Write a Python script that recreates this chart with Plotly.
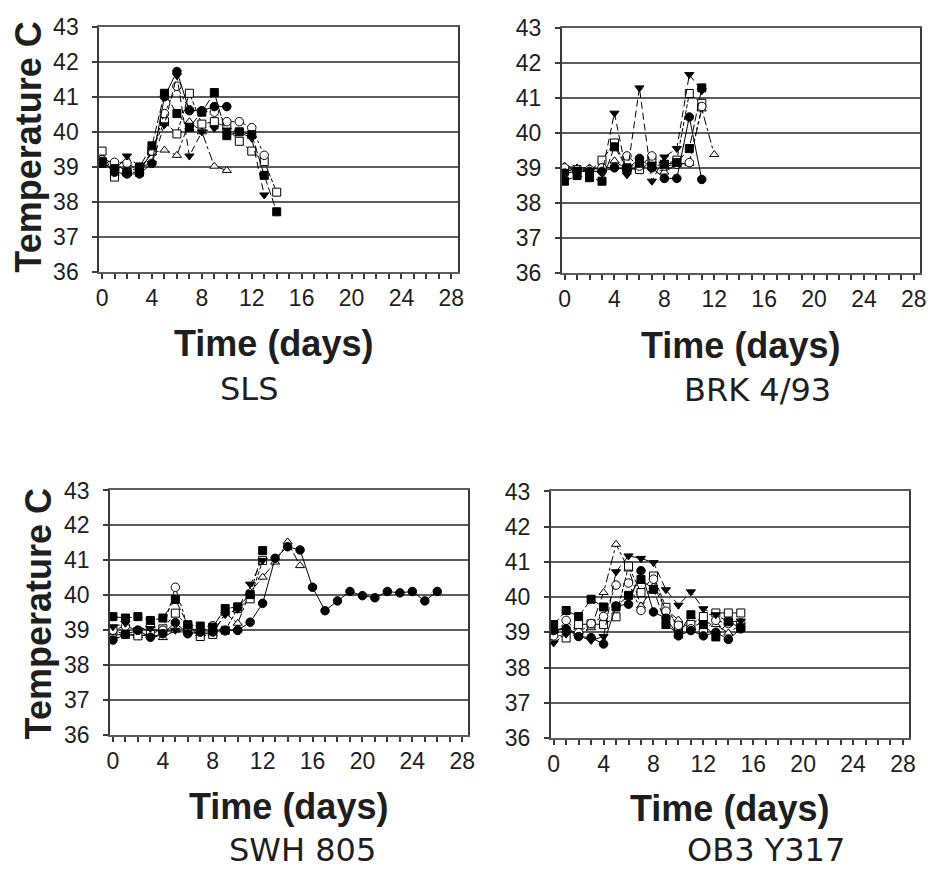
import plotly.graph_objects as go

# Rectal temperature (deg C) by day post-infection, four virus strains,
# six animals per strain (one list per animal, starting at day 0).
y_tick_vals = [36, 37, 38, 39, 40, 41, 42, 43]
x_tick_vals = [0, 4, 8, 12, 16, 20, 24, 28]
panel_titles = ["SLS", "BRK 4/93", "SWH 805", "OB3 Y317"]

# SLS
sls_a = [39.15, 38.85, 38.8, 38.8, 39.1, 41.0, 41.72, 40.6, 40.6, 40.72, 40.72]
sls_b = [39.1, 38.95, 38.85, 39.0, 39.6, 41.1, 40.52, 40.13, 40.56, 41.12, 39.89, 40.0, 39.92, 38.76, 37.72]
sls_c = [39.2, 39.13, 39.11, 38.9, 39.45, 40.52, 41.3, 40.63, 40.6, 40.56, 40.29, 40.29, 40.12, 39.33]
sls_d = [39.45, 38.71, 38.85, 38.85, 39.45, 40.29, 39.94, 41.1, 40.22, 40.29, 40.13, 39.73, 39.45, 39.15, 38.28]
sls_e = [39.2, 38.9, 39.31, 39.0, 39.1, 40.2, 41.6, 39.31, 40.0, 40.1, 40.05, 40.0, 39.82, 38.2]
sls_f = [39.27, 39.05, 38.9, 38.9, 39.4, 39.48, 39.33, 40.29, 40.0, 39.02, 38.9]

# BRK 4/93
brk_a = [38.85, 38.9, 38.9, 38.9, 39.0, 38.95, 39.27, 39.0, 38.7, 38.7, 40.45, 38.67]
brk_b = [38.62, 38.78, 38.72, 38.62, 39.6, 39.0, 39.13, 39.05, 39.1, 39.15, 39.55, 41.28]
brk_c = [39.0, 38.95, 38.95, 39.0, 39.02, 39.34, 39.05, 39.34, 39.05, 39.1, 39.15, 40.75]
brk_d = [38.95, 38.95, 38.9, 39.22, 39.71, 38.99, 38.95, 39.2, 39.1, 39.22, 41.12, 40.84]
brk_e = [38.9, 38.95, 38.9, 38.85, 40.56, 38.8, 41.28, 38.62, 39.31, 39.55, 41.66, 41.2]
brk_f = [39.05, 39.0, 39.0, 38.95, 39.2, 38.95, 39.0, 39.05, 38.88, 39.1, 39.13, 40.68, 39.38]

# SWH 805
swh_a = [38.72, 38.88, 39.0, 38.8, 38.9, 39.22, 38.9, 38.95, 38.95, 39.0, 39.0, 39.23, 39.77,
         41.06, 41.39, 41.3, 40.23, 39.56, 39.84, 40.11, 39.99, 39.93, 40.11, 40.07, 40.11, 39.84, 40.11]
swh_b = [39.39, 39.35, 39.39, 39.28, 39.35, 39.88, 39.16, 39.12, 39.09, 39.62, 39.67, 40.02, 41.28]
swh_c = [39.0, 39.12, 39.0, 39.12, 39.0, 40.23, 39.1, 38.95, 39.13, 38.98, 39.0]
swh_d = [39.0, 38.88, 38.84, 38.88, 39.04, 39.49, 39.12, 38.82, 38.88, 39.0, 39.62, 39.9, 41.0]
swh_e = [39.1, 39.2, 39.0, 39.05, 38.95, 39.0, 38.9, 38.95, 38.95, 39.45, 39.6, 40.32, 41.0]
swh_f = [38.85, 38.9, 38.85, 38.85, 38.79, 39.0, 38.95, 38.9, 38.9, 39.49, 39.2, 40.1, 40.52,
         40.95, 41.53, 40.85]

# OB3 Y317
ob3_a = [39.05, 39.1, 38.88, 38.85, 38.67, 39.75, 39.8, 40.75, 39.58, 39.4, 38.9, 39.05, 38.9, 39.0, 38.8, 39.1]
ob3_b = [39.22, 39.62, 39.45, 39.94, 39.72, 39.72, 40.05, 40.5, 40.22, 39.22, 38.95, 39.5, 39.22, 38.87, 39.3, 39.13]
ob3_c = [38.9, 39.34, 38.99, 39.25, 39.45, 40.34, 40.4, 39.62, 40.51, 39.6, 39.2, 39.1, 39.05, 39.34, 39.25, 39.27]
ob3_d = [38.97, 38.84, 39.22, 39.24, 39.22, 39.44, 40.88, 40.13, 40.6, 39.71, 39.15, 39.22, 39.45, 39.55, 39.55, 39.55]
ob3_e = [38.7, 38.95, 38.9, 38.77, 38.88, 40.72, 41.17, 41.1, 40.98, 40.21, 39.77, 40.15, 39.67, 39.5, 39.3, 39.32]
ob3_f = [39.05, 39.14, 38.92, 39.13, 40.13, 41.5, 40.8, 39.75, 40.3, 39.65, 39.35, 39.13, 39.3, 39.22, 38.98, 39.22]

panels = [
    [sls_a, sls_b, sls_c, sls_d, sls_e, sls_f],
    [brk_a, brk_b, brk_c, brk_d, brk_e, brk_f],
    [swh_a, swh_b, swh_c, swh_d, swh_e, swh_f],
    [ob3_a, ob3_b, ob3_c, ob3_d, ob3_e, ob3_f],
]

# marker symbol, fill, line dash for each animal
styles = [
    ("circle", "black", "solid"),
    ("square", "black", "8px,3px"),
    ("circle", "white", "dot"),
    ("square", "white", "4px,2px"),
    ("triangle-down", "black", "7px,4px"),
    ("triangle-up", "white", "dashdot"),
]
draw_order = [5, 3, 2, 4, 1, 0]

W, H = 935, 882
# plot-area boxes in pixels: left, right, top, bottom
boxes = [(97, 459, 14, 267), (564, 926, 15, 268), (108, 470, 492, 744), (553, 915, 493, 747)]

fig = go.Figure()
grid_col = "#5c5c5c"
axis_col = "#3a3a3a"
text_col = "#1e1e1e"
tick_font = dict(family="Liberation Sans, Arial, sans-serif", size=23, color=text_col)

for i, (series, box) in enumerate(zip(panels, boxes)):
    n = "" if i == 0 else str(i + 1)
    xa, ya = "x" + n, "y" + n
    for k in draw_order:
        vals = series[k]
        sym, fill, dash = styles[k]
        fig.add_trace(go.Scatter(
            x=list(range(len(vals))), y=vals, xaxis=xa, yaxis=ya,
            mode="lines+markers", showlegend=False,
            line=dict(color="black", width=1, dash=dash),
            marker=dict(symbol=sym, size=8 if sym != "circle" else 8.5, color=fill,
                        line=dict(color="black", width=1)),
        ))
    l, r, t, b = box
    fig.layout["xaxis" + n] = dict(
        domain=[l / W, r / W], anchor=ya, range=[-0.24, 28.5],
        tickvals=x_tick_vals, ticks="outside", ticklen=5, tickwidth=1.5, tickcolor=axis_col,
        minor=dict(dtick=1, tick0=0, ticks="outside", ticklen=5, tickwidth=1.5, tickcolor=axis_col,
                   showgrid=False),
        showgrid=False, zeroline=False, showline=True, linecolor=grid_col, linewidth=1.5,
        mirror=True, tickfont=tick_font, ticklabelstandoff=0,
    )
    fig.layout["yaxis" + n] = dict(
        domain=[1 - b / H, 1 - t / H], anchor=xa, range=[36, 43],
        tickvals=y_tick_vals, ticks="outside", ticklen=5, tickwidth=1.5, tickcolor=axis_col,
        showgrid=True, gridcolor=grid_col, gridwidth=1.5, zeroline=False,
        showline=True, linecolor=axis_col, linewidth=1.5, mirror=True,
        tickfont=tick_font, ticklabelstandoff=9,
    )

bold = dict(family="Liberation Sans, Arial, sans-serif", size=36, color=text_col)
label_font = dict(family="DejaVu Sans, sans-serif", size=32, color=text_col)

ann = []
# y-axis titles on the left panels
for cx, cy in [(26, 138), (36, 619)]:
    ann.append(dict(text="<b>Temperature C</b>", x=cx / W, y=1 - cy / H, xref="paper", yref="paper",
                    textangle=-90, showarrow=False, font=bold, xanchor="center", yanchor="middle"))
# x-axis titles and strain names
for (cx, cy), (sx, sy), name in zip([(273, 341), (745, 343), (288, 818), (734, 820)],
                                    [(248, 387), (762, 388), (302, 862), (770, 862)],
                                    panel_titles):
    ann.append(dict(text="<b>Time (days)</b>", x=cx / W, y=1 - cy / H, xref="paper", yref="paper",
                    showarrow=False, font=bold, xanchor="center", yanchor="middle"))
    ann.append(dict(text=name, x=sx / W, y=1 - sy / H, xref="paper", yref="paper",
                    showarrow=False, font=label_font, xanchor="center", yanchor="middle"))

fig.update_layout(
    width=W, height=H, margin=dict(l=0, r=0, t=0, b=0),
    paper_bgcolor="white", plot_bgcolor="white", annotations=ann,
)

fig.write_html("out.html")
